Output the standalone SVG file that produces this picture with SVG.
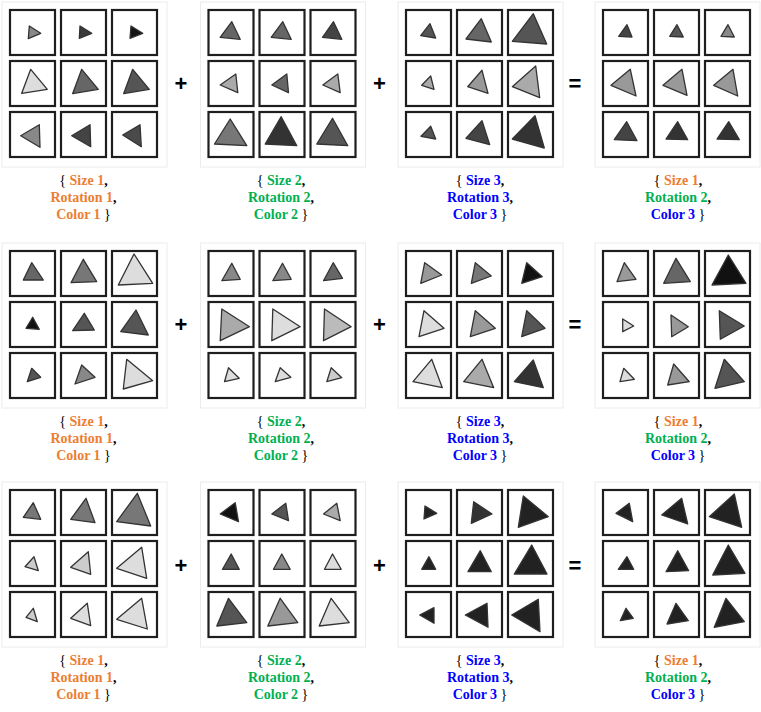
<svg xmlns="http://www.w3.org/2000/svg" width="761" height="712" viewBox="0 0 761 712">
<style>
.panel{fill:#fff;stroke:#ececec;stroke-width:1}
.c{fill:#fff;stroke:#1e1e1e;stroke-width:2.2}
.t{stroke:#333;stroke-width:1.3;stroke-linejoin:round}
.lb{font-family:"Liberation Serif","Times New Roman",serif;font-size:14px;font-weight:bold;fill:#000}
.br{font-weight:normal;fill:#000}
.o{fill:#ED7D31}.g{fill:#00B050}.b{fill:#0000FF}
.op{font-family:"Liberation Sans",Arial,sans-serif;font-size:22px;font-weight:bold;fill:#000}
</style>
<defs>
<rect id="cell" class="c" x="1" y="1" width="45" height="45"/>
</defs>

<!-- Row 1 -->
<g id="r1-g1" transform="translate(9,9)">
<rect class="panel" x="-7" y="-7" width="165" height="165"/>
<g><use href="#cell"/><polygon class="t" fill="#888" points="20.3,17 31.7,24.3 19.3,29.7"/></g>
<g transform="translate(51,0)"><use href="#cell"/><polygon class="t" fill="#3a3a3a" points="20,17 31.7,24.3 19.3,29.3"/></g>
<g transform="translate(102,0)"><use href="#cell"/><polygon class="t" fill="#151515" points="20,17 31.7,24.3 19,29.3"/></g>
<g transform="translate(0,51)"><use href="#cell"/><polygon class="t" fill="#ddd" points="21.7,9.3 38.3,29.3 12.7,33.3"/></g>
<g transform="translate(51,51)"><use href="#cell"/><polygon class="t" fill="#666" points="21.7,9.3 38.3,29.3 12.7,33.6"/></g>
<g transform="translate(102,51)"><use href="#cell"/><polygon class="t" fill="#555" points="21.7,9.3 38.3,29.3 12.7,33.6"/></g>
<g transform="translate(0,102)"><use href="#cell"/><polygon class="t" fill="#888" points="11.7,24.7 30.3,13.7 31,36.3"/></g>
<g transform="translate(51,102)"><use href="#cell"/><polygon class="t" fill="#444" points="11.7,24.7 30,13.7 30.7,35.7"/></g>
<g transform="translate(102,102)"><use href="#cell"/><polygon class="t" fill="#4a4a4a" points="11.7,24 29,13.7 30.3,35.7"/></g>
</g>

<g id="r1-g2" transform="translate(207.5,9)">
<rect class="panel" x="-7" y="-7" width="165" height="165"/>
<g><use href="#cell"/><polygon class="t" fill="#666" points="24.3,12.7 32.7,30.3 12.7,28.3"/></g>
<g transform="translate(51,0)"><use href="#cell"/><polygon class="t" fill="#666" points="24.3,12.7 32.7,30.3 12.7,28.3"/></g>
<g transform="translate(102,0)"><use href="#cell"/><polygon class="t" fill="#444" points="24,12.7 32.3,30.3 13,28.3"/></g>
<g transform="translate(0,51)"><use href="#cell"/><polygon class="t" fill="#aaa" points="12.7,25 28.3,14 30.3,32.7"/></g>
<g transform="translate(51,51)"><use href="#cell"/><polygon class="t" fill="#666" points="13.3,25 28.3,14 30,32.7"/></g>
<g transform="translate(102,51)"><use href="#cell"/><polygon class="t" fill="#aaa" points="13.3,25 28.3,14 30.7,32.7"/></g>
<g transform="translate(0,102)"><use href="#cell"/><polygon class="t" fill="#777" points="22.7,8 39.3,34.7 7,33"/></g>
<g transform="translate(51,102)"><use href="#cell"/><polygon class="t" fill="#333" points="22.7,5.7 38.3,34.7 6.7,33"/></g>
<g transform="translate(102,102)"><use href="#cell"/><polygon class="t" fill="#555" points="23,7.3 38.3,34.7 7.3,33"/></g>
</g>

<g id="r1-g3" transform="translate(405,9)">
<rect class="panel" x="-7" y="-7" width="165" height="165"/>
<g><use href="#cell"/><polygon class="t" fill="#555" points="25,14.7 30.7,29 15.7,26.7"/></g>
<g transform="translate(51,0)"><use href="#cell"/><polygon class="t" fill="#666" points="25.3,9.7 35.3,33 10,30"/></g>
<g transform="translate(102,0)"><use href="#cell"/><polygon class="t" fill="#555" points="26.3,4.7 39.7,35 5.3,32.3"/></g>
<g transform="translate(0,51)"><use href="#cell"/><polygon class="t" fill="#aaa" points="25.7,16 29,29.3 16.7,25.3"/></g>
<g transform="translate(51,51)"><use href="#cell"/><polygon class="t" fill="#999" points="26,10.3 32,33.3 11.7,26.7"/></g>
<g transform="translate(102,51)"><use href="#cell"/><polygon class="t" fill="#aaa" points="28.7,6 32.7,37.7 5.3,26.7"/></g>
<g transform="translate(0,102)"><use href="#cell"/><polygon class="t" fill="#555" points="25.7,15.3 30.7,28 16,25.3"/></g>
<g transform="translate(51,102)"><use href="#cell"/><polygon class="t" fill="#444" points="26,9.7 33.7,33.7 10,27.3"/></g>
<g transform="translate(102,102)"><use href="#cell"/><polygon class="t" fill="#333" points="28,4.7 37.3,37 5.3,28"/></g>
</g>

<g id="r1-g4" transform="translate(602,9)">
<rect class="panel" x="-7" y="-7" width="165" height="165"/>
<g><use href="#cell"/><polygon class="t" fill="#444" points="25,15.7 30,28 16.7,27.3"/></g>
<g transform="translate(51,0)"><use href="#cell"/><polygon class="t" fill="#555" points="24,15.7 30.3,28 16.7,27.3"/></g>
<g transform="translate(102,0)"><use href="#cell"/><polygon class="t" fill="#888" points="24,15.7 30.3,28 17,27.3"/></g>
<g transform="translate(0,51)"><use href="#cell"/><polygon class="t" fill="#999" points="9,25.3 28.3,9.3 34,36"/></g>
<g transform="translate(51,51)"><use href="#cell"/><polygon class="t" fill="#999" points="10,25.3 29,9.3 34,35.3"/></g>
<g transform="translate(102,51)"><use href="#cell"/><polygon class="t" fill="#999" points="9.7,25.3 29,9.3 33.7,36"/></g>
<g transform="translate(0,102)"><use href="#cell"/><polygon class="t" fill="#444" points="24.7,10.7 35,29.7 12.3,28.7"/></g>
<g transform="translate(51,102)"><use href="#cell"/><polygon class="t" fill="#333" points="24.7,10.7 34.7,28.7 13,28"/></g>
<g transform="translate(102,102)"><use href="#cell"/><polygon class="t" fill="#333" points="24.7,10.7 35.3,28.7 13,28"/></g>
</g>

<!-- Row 2 -->
<g id="r2-g1" transform="translate(9,250)">
<rect class="panel" x="-7" y="-7" width="165" height="165"/>
<g><use href="#cell"/><polygon class="t" fill="#666" points="22.7,12.7 34.3,30 14.3,30"/></g>
<g transform="translate(51,0)"><use href="#cell"/><polygon class="t" fill="#777" points="23.3,9.3 36.7,31.7 11,32.7"/></g>
<g transform="translate(102,0)"><use href="#cell"/><polygon class="t" fill="#ddd" points="23,4 41.7,33.3 7.3,35"/></g>
<g transform="translate(0,51)"><use href="#cell"/><polygon class="t" fill="#111" points="23.7,16.3 30.3,28.3 17,27.3"/></g>
<g transform="translate(51,51)"><use href="#cell"/><polygon class="t" fill="#555" points="24.3,12.3 34.3,29 12.7,29.7"/></g>
<g transform="translate(102,51)"><use href="#cell"/><polygon class="t" fill="#555" points="25,9 37.3,34 9.7,30.7"/></g>
<g transform="translate(0,102)"><use href="#cell"/><polygon class="t" fill="#555" points="22.7,16.3 31.7,25.3 18.3,29.7"/></g>
<g transform="translate(51,102)"><use href="#cell"/><polygon class="t" fill="#888" points="21.7,13 35,25.3 15,32"/></g>
<g transform="translate(102,102)"><use href="#cell"/><polygon class="t" fill="#ddd" points="15.7,7.3 41.7,28.7 12.3,37"/></g>
</g>

<g id="r2-g2" transform="translate(207.5,250)">
<rect class="panel" x="-7" y="-7" width="165" height="165"/>
<g><use href="#cell"/><polygon class="t" fill="#888" points="24.3,13.3 32.7,29.3 14.3,30.7"/></g>
<g transform="translate(51,0)"><use href="#cell"/><polygon class="t" fill="#888" points="24,13.3 32.7,29.3 14.3,30.7"/></g>
<g transform="translate(102,0)"><use href="#cell"/><polygon class="t" fill="#666" points="23.7,12.7 33,28.3 14,30.7"/></g>
<g transform="translate(0,51)"><use href="#cell"/><polygon class="t" fill="#aaa" points="14.3,8 42,25.7 12.7,39.7"/></g>
<g transform="translate(51,51)"><use href="#cell"/><polygon class="t" fill="#ddd" points="14.3,8 41.7,25.7 13.3,39.7"/></g>
<g transform="translate(102,51)"><use href="#cell"/><polygon class="t" fill="#bbb" points="15,8 41.7,25.7 14,39.7"/></g>
<g transform="translate(0,102)"><use href="#cell"/><polygon class="t" fill="#ddd" points="21,15.7 31.7,26.3 17,29.7"/></g>
<g transform="translate(51,102)"><use href="#cell"/><polygon class="t" fill="#ddd" points="21.7,15.7 32.3,25.3 16.7,29.7"/></g>
<g transform="translate(102,102)"><use href="#cell"/><polygon class="t" fill="#ccc" points="21.7,15.7 32.3,25.7 17.3,29.7"/></g>
</g>

<g id="r2-g3" transform="translate(405,250)">
<rect class="panel" x="-7" y="-7" width="165" height="165"/>
<g><use href="#cell"/><polygon class="t" fill="#999" points="19.7,12.7 36.7,25 15.7,33.3"/></g>
<g transform="translate(51,0)"><use href="#cell"/><polygon class="t" fill="#777" points="19.3,12.7 35.3,26 15.3,33.3"/></g>
<g transform="translate(102,0)"><use href="#cell"/><polygon class="t" fill="#111" points="19.7,12.7 35.3,26.7 14.7,33.3"/></g>
<g transform="translate(0,51)"><use href="#cell"/><polygon class="t" fill="#ddd" points="19,9.7 39,27.3 14,35.7"/></g>
<g transform="translate(51,51)"><use href="#cell"/><polygon class="t" fill="#999" points="19.3,9.7 39.3,27.3 14.3,35.7"/></g>
<g transform="translate(102,51)"><use href="#cell"/><polygon class="t" fill="#555" points="19.7,9.7 38,27.3 14.7,35.7"/></g>
<g transform="translate(0,102)"><use href="#cell"/><polygon class="t" fill="#ddd" points="26.7,7.3 37.3,35.7 8,29.7"/></g>
<g transform="translate(51,102)"><use href="#cell"/><polygon class="t" fill="#aaa" points="26,7.3 37.7,35.7 7.7,29.7"/></g>
<g transform="translate(102,102)"><use href="#cell"/><polygon class="t" fill="#333" points="26.3,8 36.3,35.7 7.3,29.7"/></g>
</g>

<g id="r2-g4" transform="translate(602,250)">
<rect class="panel" x="-7" y="-7" width="165" height="165"/>
<g><use href="#cell"/><polygon class="t" fill="#999" points="22.3,12.7 34,29.3 15,31.7"/></g>
<g transform="translate(51,0)"><use href="#cell"/><polygon class="t" fill="#666" points="23,8.3 37.3,31.7 10.7,33.3"/></g>
<g transform="translate(102,0)"><use href="#cell"/><polygon class="t" fill="#111" points="24.3,5 42,33.3 8,35"/></g>
<g transform="translate(0,51)"><use href="#cell"/><polygon class="t" fill="#ddd" points="20.7,18 31.7,25 20.7,30.7"/></g>
<g transform="translate(51,51)"><use href="#cell"/><polygon class="t" fill="#999" points="18,14 35.3,25.7 18.7,35.7"/></g>
<g transform="translate(102,51)"><use href="#cell"/><polygon class="t" fill="#555" points="15.3,9.7 40.3,25 16.3,38.3"/></g>
<g transform="translate(0,102)"><use href="#cell"/><polygon class="t" fill="#ddd" points="21.7,16.3 32.3,27.3 18,29.7"/></g>
<g transform="translate(51,102)"><use href="#cell"/><polygon class="t" fill="#999" points="20.7,12 36.3,29.7 14.7,33"/></g>
<g transform="translate(102,102)"><use href="#cell"/><polygon class="t" fill="#555" points="20.3,7.3 40.3,29.7 11,36.3"/></g>
</g>

<!-- Row 3 -->
<g id="r3-g1" transform="translate(9,489)">
<rect class="panel" x="-7" y="-7" width="165" height="165"/>
<g><use href="#cell"/><polygon class="t" fill="#777" points="24.3,13.7 31.7,30.3 14.3,28.3"/></g>
<g transform="translate(51,0)"><use href="#cell"/><polygon class="t" fill="#777" points="26,9.3 35,33.7 10.7,30.3"/></g>
<g transform="translate(102,0)"><use href="#cell"/><polygon class="t" fill="#777" points="26.3,4.3 39.7,37 5.7,32.7"/></g>
<g transform="translate(0,51)"><use href="#cell"/><polygon class="t" fill="#ccc" points="25,16.7 29.3,30.7 16,26.7"/></g>
<g transform="translate(51,51)"><use href="#cell"/><polygon class="t" fill="#ccc" points="28.3,11.7 30.7,34.3 10.7,27.3"/></g>
<g transform="translate(102,51)"><use href="#cell"/><polygon class="t" fill="#ddd" points="30.7,7.3 35.7,38.3 5.7,28.3"/></g>
<g transform="translate(0,102)"><use href="#cell"/><polygon class="t" fill="#ccc" points="24.3,17.3 28.3,30.7 17,26.3"/></g>
<g transform="translate(51,102)"><use href="#cell"/><polygon class="t" fill="#ddd" points="27.3,12.3 30.7,34.7 10.7,27.3"/></g>
<g transform="translate(102,102)"><use href="#cell"/><polygon class="t" fill="#ddd" points="30.7,7.3 36.3,38 5.7,28.3"/></g>
</g>

<g id="r3-g2" transform="translate(207.5,489)">
<rect class="panel" x="-7" y="-7" width="165" height="165"/>
<g><use href="#cell"/><polygon class="t" fill="#111" points="12.7,25 27.7,13.7 31,32.7"/></g>
<g transform="translate(51,0)"><use href="#cell"/><polygon class="t" fill="#555" points="13.3,25 27.3,14.3 30,31.7"/></g>
<g transform="translate(102,0)"><use href="#cell"/><polygon class="t" fill="#aaa" points="14,25 27.3,14.3 30.7,31.7"/></g>
<g transform="translate(0,51)"><use href="#cell"/><polygon class="t" fill="#555" points="23.7,14 31.7,29.3 15,29.3"/></g>
<g transform="translate(51,51)"><use href="#cell"/><polygon class="t" fill="#888" points="23.3,14 31.7,29.3 15,29.3"/></g>
<g transform="translate(102,51)"><use href="#cell"/><polygon class="t" fill="#ddd" points="23,14 31.7,29.3 15,29.3"/></g>
<g transform="translate(0,102)"><use href="#cell"/><polygon class="t" fill="#555" points="21,7.3 39.3,31.7 9.3,35"/></g>
<g transform="translate(51,102)"><use href="#cell"/><polygon class="t" fill="#999" points="21.7,7.3 39.3,31.7 9.3,35"/></g>
<g transform="translate(102,102)"><use href="#cell"/><polygon class="t" fill="#ddd" points="21.7,7.3 39.7,31.7 9.7,35"/></g>
</g>

<g id="r3-g3" transform="translate(405,489)">
<rect class="panel" x="-7" y="-7" width="165" height="165"/>
<g><use href="#cell"/><polygon class="t" fill="#222" points="20,17 31.7,24.3 19,30"/></g>
<g transform="translate(51,0)"><use href="#cell"/><polygon class="t" fill="#333" points="17.7,12.7 36,25 15.3,34.3"/></g>
<g transform="translate(102,0)"><use href="#cell"/><polygon class="t" fill="#222" points="16.3,7 41.3,27.7 11.3,38.3"/></g>
<g transform="translate(0,51)"><use href="#cell"/><polygon class="t" fill="#222" points="24,16.7 30.7,29.3 16.7,29.3"/></g>
<g transform="translate(51,51)"><use href="#cell"/><polygon class="t" fill="#222" points="24.3,10.7 35.3,31.7 12,31.7"/></g>
<g transform="translate(102,51)"><use href="#cell"/><polygon class="t" fill="#222" points="24.7,5 40,34 7.3,34"/></g>
<g transform="translate(0,102)"><use href="#cell"/><polygon class="t" fill="#222" points="14.7,24 29,16.7 29,32.3"/></g>
<g transform="translate(51,102)"><use href="#cell"/><polygon class="t" fill="#222" points="9.3,24 31,12.3 32,36.3"/></g>
<g transform="translate(102,102)"><use href="#cell"/><polygon class="t" fill="#222" points="4.7,24 31.3,8.3 33,40.7"/></g>
</g>

<g id="r3-g4" transform="translate(602,489)">
<rect class="panel" x="-7" y="-7" width="165" height="165"/>
<g><use href="#cell"/><polygon class="t" fill="#222" points="14,24.3 27.3,14.3 30.7,32.7"/></g>
<g transform="translate(51,0)"><use href="#cell"/><polygon class="t" fill="#222" points="8.7,26 28.7,9.3 34.7,35"/></g>
<g transform="translate(102,0)"><use href="#cell"/><polygon class="t" fill="#222" points="5.3,27.7 30.3,5 37.7,38.3"/></g>
<g transform="translate(0,51)"><use href="#cell"/><polygon class="t" fill="#222" points="25,16.7 31.7,29.3 16.3,29.3"/></g>
<g transform="translate(51,51)"><use href="#cell"/><polygon class="t" fill="#222" points="24.7,10.7 35.7,30.7 13,31.7"/></g>
<g transform="translate(102,51)"><use href="#cell"/><polygon class="t" fill="#222" points="24.3,5 41,33.3 8.7,35"/></g>
<g transform="translate(0,102)"><use href="#cell"/><polygon class="t" fill="#222" points="24,17.3 31.3,27.3 18.3,29.7"/></g>
<g transform="translate(51,102)"><use href="#cell"/><polygon class="t" fill="#222" points="23,12.3 35.3,29.7 14,33"/></g>
<g transform="translate(102,102)"><use href="#cell"/><polygon class="t" fill="#222" points="22,7.3 40.3,30.7 10.3,36.3"/></g>
</g>

<!-- Operators -->
<g id="operators">
<text class="op" x="181" y="91" text-anchor="middle">+</text>
<text class="op" x="379.5" y="91" text-anchor="middle">+</text>
<text class="op" x="575" y="91" text-anchor="middle">=</text>
<text class="op" x="181" y="332" text-anchor="middle">+</text>
<text class="op" x="379.5" y="332" text-anchor="middle">+</text>
<text class="op" x="575" y="332" text-anchor="middle">=</text>
<text class="op" x="181" y="573" text-anchor="middle">+</text>
<text class="op" x="379.5" y="573" text-anchor="middle">+</text>
<text class="op" x="575" y="573" text-anchor="middle">=</text>
</g>

<!-- Labels -->
<g id="labels">
<g>
<text class="lb" x="83.5" y="184.5" text-anchor="middle"><tspan class="br">{ </tspan><tspan class="o">Size 1</tspan>,</text>
<text class="lb" x="83.5" y="201.5" text-anchor="middle"><tspan class="o">Rotation 1</tspan>,</text>
<text class="lb" x="83.5" y="218.5" text-anchor="middle"><tspan class="o">Color 1</tspan><tspan class="br"> }</tspan></text>
<text class="lb" x="281" y="184.5" text-anchor="middle"><tspan class="br">{ </tspan><tspan class="g">Size 2</tspan>,</text>
<text class="lb" x="281" y="201.5" text-anchor="middle"><tspan class="g">Rotation 2</tspan>,</text>
<text class="lb" x="281" y="218.5" text-anchor="middle"><tspan class="g">Color 2</tspan><tspan class="br"> }</tspan></text>
<text class="lb" x="480" y="184.5" text-anchor="middle"><tspan class="br">{ </tspan><tspan class="b">Size 3</tspan>,</text>
<text class="lb" x="480" y="201.5" text-anchor="middle"><tspan class="b">Rotation 3</tspan>,</text>
<text class="lb" x="480" y="218.5" text-anchor="middle"><tspan class="b">Color 3</tspan><tspan class="br"> }</tspan></text>
<text class="lb" x="678" y="184.5" text-anchor="middle"><tspan class="br">{ </tspan><tspan class="o">Size 1</tspan>,</text>
<text class="lb" x="678" y="201.5" text-anchor="middle"><tspan class="g">Rotation 2</tspan>,</text>
<text class="lb" x="678" y="218.5" text-anchor="middle"><tspan class="b">Color 3</tspan><tspan class="br"> }</tspan></text>
</g>
<g>
<text class="lb" x="83.5" y="425.5" text-anchor="middle"><tspan class="br">{ </tspan><tspan class="o">Size 1</tspan>,</text>
<text class="lb" x="83.5" y="442.5" text-anchor="middle"><tspan class="o">Rotation 1</tspan>,</text>
<text class="lb" x="83.5" y="459.5" text-anchor="middle"><tspan class="o">Color 1</tspan><tspan class="br"> }</tspan></text>
<text class="lb" x="281" y="425.5" text-anchor="middle"><tspan class="br">{ </tspan><tspan class="g">Size 2</tspan>,</text>
<text class="lb" x="281" y="442.5" text-anchor="middle"><tspan class="g">Rotation 2</tspan>,</text>
<text class="lb" x="281" y="459.5" text-anchor="middle"><tspan class="g">Color 2</tspan><tspan class="br"> }</tspan></text>
<text class="lb" x="480" y="425.5" text-anchor="middle"><tspan class="br">{ </tspan><tspan class="b">Size 3</tspan>,</text>
<text class="lb" x="480" y="442.5" text-anchor="middle"><tspan class="b">Rotation 3</tspan>,</text>
<text class="lb" x="480" y="459.5" text-anchor="middle"><tspan class="b">Color 3</tspan><tspan class="br"> }</tspan></text>
<text class="lb" x="678" y="425.5" text-anchor="middle"><tspan class="br">{ </tspan><tspan class="o">Size 1</tspan>,</text>
<text class="lb" x="678" y="442.5" text-anchor="middle"><tspan class="g">Rotation 2</tspan>,</text>
<text class="lb" x="678" y="459.5" text-anchor="middle"><tspan class="b">Color 3</tspan><tspan class="br"> }</tspan></text>
</g>
<g>
<text class="lb" x="83.5" y="665" text-anchor="middle"><tspan class="br">{ </tspan><tspan class="o">Size 1</tspan>,</text>
<text class="lb" x="83.5" y="682" text-anchor="middle"><tspan class="o">Rotation 1</tspan>,</text>
<text class="lb" x="83.5" y="699" text-anchor="middle"><tspan class="o">Color 1</tspan><tspan class="br"> }</tspan></text>
<text class="lb" x="281" y="665" text-anchor="middle"><tspan class="br">{ </tspan><tspan class="g">Size 2</tspan>,</text>
<text class="lb" x="281" y="682" text-anchor="middle"><tspan class="g">Rotation 2</tspan>,</text>
<text class="lb" x="281" y="699" text-anchor="middle"><tspan class="g">Color 2</tspan><tspan class="br"> }</tspan></text>
<text class="lb" x="480" y="665" text-anchor="middle"><tspan class="br">{ </tspan><tspan class="b">Size 3</tspan>,</text>
<text class="lb" x="480" y="682" text-anchor="middle"><tspan class="b">Rotation 3</tspan>,</text>
<text class="lb" x="480" y="699" text-anchor="middle"><tspan class="b">Color 3</tspan><tspan class="br"> }</tspan></text>
<text class="lb" x="678" y="665" text-anchor="middle"><tspan class="br">{ </tspan><tspan class="o">Size 1</tspan>,</text>
<text class="lb" x="678" y="682" text-anchor="middle"><tspan class="g">Rotation 2</tspan>,</text>
<text class="lb" x="678" y="699" text-anchor="middle"><tspan class="b">Color 3</tspan><tspan class="br"> }</tspan></text>
</g>
</g>
</svg>
